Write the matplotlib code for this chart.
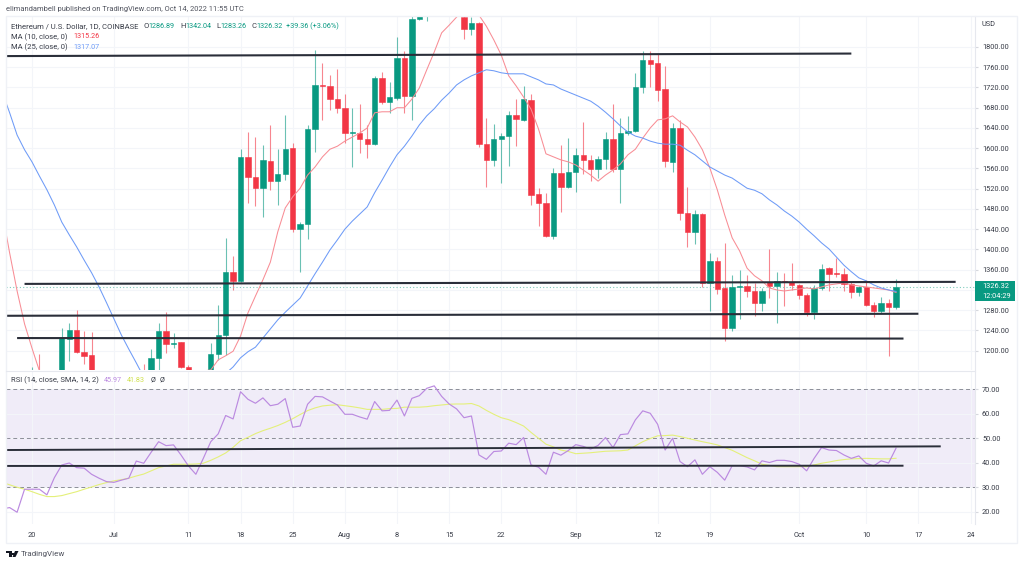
#! /usr/bin/python3
#
#   eth_daily.py
#
# ------------------------------------------------------------------
import numpy as np
import pandas as pd
import matplotlib
matplotlib.use('Agg')
import matplotlib.pyplot as plt
import matplotlib.dates as mdates
from matplotlib.patches import Rectangle, Polygon

plt.rcParams['font.family'] = ['Roboto', 'DejaVu Sans']

# ------------------------------------------------------------------
# daily candles from 2022-06-20
opens = [1125,1128,1050,1100,1130,1224,1241,1197,1192,1130,
    1100,1070,1060,1066,1075,1150,1135,1186,1238,1213,
    1217,1168,1097,1039,1112,1194,1231,1356,1338,1583,
    1543,1522,1575,1536,1549,1600,1440,1450,1638,1725,
    1723,1698,1680,1631,1631,1619,1608,1739,1691,1700,
    1779,1703,1855,1958,1980,1935,1900,1880,1859,1836,
    1847,1608,1576,1619,1625,1666,1656,1695,1509,1491,
    1427,1552,1524,1554,1587,1576,1558,1579,1619,1559,
    1630,1635,1720,1775,1768,1717,1573,1640,1473,1434,
    1470,1334,1377,1323,1245,1326,1328,1318,1294,1335,
    1327,1337,1336,1329,1311,1276,1323,1363,1354,1352,
    1332,1315,1325,1290,1279,1294,1286.89]
highs = [1168,1194,1140,1150,1245,1255,1280,1238,1237,1145,
    1115,1100,1085,1090,1155,1174,1203,1255,1277,1235,
    1218,1172,1110,1115,1215,1290,1423,1387,1598,1632,
    1622,1606,1646,1598,1666,1610,1455,1646,1794,1768,
    1745,1757,1707,1680,1687,1645,1743,1751,1731,1820,
    1792,1880,1965,2020,2010,2030,1940,1960,1885,1859,
    1849,1660,1648,1630,1674,1697,1723,1707,1521,1512,
    1561,1606,1621,1600,1652,1587,1585,1633,1687,1660,
    1664,1749,1792,1792,1786,1762,1650,1656,1523,1477,
    1472,1394,1386,1412,1350,1359,1350,1333,1323,1401,
    1355,1353,1374,1332,1314,1330,1371,1365,1384,1363,
    1336,1327,1340,1297,1307,1302,1342.04]
lows = [1085,1040,1000,1040,1120,1180,1195,1174,1115,1090,
    1020,1040,1035,1050,1065,1090,1125,1160,1195,1205,
    1165,1090,1035,1006,1100,1182,1192,1320,1336,1492,
    1486,1465,1517,1488,1537,1435,1356,1421,1593,1656,
    1676,1670,1610,1562,1591,1581,1607,1687,1670,1695,
    1670,1656,1853,1852,1905,1875,1870,1865,1816,1824,
    1603,1524,1564,1531,1564,1605,1654,1487,1447,1425,
    1421,1475,1521,1514,1549,1535,1541,1559,1554,1492,
    1626,1632,1709,1720,1694,1562,1554,1458,1405,1410,
    1326,1279,1313,1220,1238,1263,1307,1269,1279,1305,
    1254,1289,1320,1303,1269,1263,1320,1318,1346,1318,
    1305,1308,1288,1267,1275,1190,1283.26]
closes = [1128,1050,1100,1130,1225,1241,1197,1190,1130,1100,
    1070,1060,1066,1075,1150,1135,1186,1238,1214,1216,
    1168,1100,1039,1112,1194,1231,1356,1338,1583,1543,
    1521,1577,1536,1549,1598,1440,1450,1638,1725,1722,
    1697,1679,1631,1632,1618,1608,1739,1691,1701,1779,
    1703,1855,1960,1985,1935,1900,1880,1870,1836,1847,
    1608,1576,1619,1625,1666,1657,1697,1508,1491,1427,
    1552,1524,1554,1587,1576,1558,1579,1619,1559,1630,
    1635,1720,1775,1767,1716,1575,1640,1473,1434,1470,
    1333,1377,1322,1245,1326,1328,1317,1294,1318,1327,
    1338,1335,1329,1311,1276,1323,1362,1352,1352,1331,
    1315,1325,1290,1279,1294,1287,1326.32]

# moving averages and rsi start four days earlier, 2022-06-16
ma10 = [1474,1393,1318,1253,1205,1160,1120,1115,1105,1100,1110,1120,1130,1140,
    1130,1110,1100,1090,1095,1100,1100,1110,1120,1140,1150,1155,1158,1160,1162,
    1182,1190,1199,1229,1275,1308,1340,1375,1435,1482,1504,1521,1547,1563,1583,
    1598,1604,1614,1622,1630,1640,1670,1672,1672,1680,1680,1697,1719,1755,1790,
    1828,1843,1859,1873,1873,1863,1841,1814,1784,1743,1723,1701,1677,1638,1589,
    1583,1577,1573,1567,1557,1547,1535,1547,1557,1569,1587,1598,1620,1640,1656,
    1658,1664,1652,1642,1622,1597,1561,1518,1468,1423,1397,1363,1348,1338,1324,
    1320,1318,1320,1322,1324,1322,1326,1330,1332,1334,1330,1328,1326,1324,1322,
    1320,1315.26]
ma25 = [1711,1670,1626,1597,1573,1545,1518,1488,1454,1429,1405,1379,1354,1326,
    1295,1263,1231,1203,1176,1148,1135,1125,1115,1105,1100,1098,1100,1105,1115,
    1135,1155,1168,1186,1198,1207,1225,1243,1261,1276,1290,1304,1328,1352,1375,
    1399,1419,1440,1456,1470,1484,1512,1537,1563,1587,1604,1624,1646,1664,1678,
    1695,1709,1725,1735,1743,1749,1755,1753,1749,1747,1747,1747,1741,1735,1727,
    1725,1717,1711,1705,1699,1693,1683,1671,1658,1644,1632,1624,1620,1614,1610,
    1608,1608,1606,1596,1587,1575,1563,1555,1547,1541,1531,1521,1517,1510,1498,
    1488,1476,1466,1454,1440,1427,1413,1401,1385,1369,1356,1344,1338,1330,1324,
    1320,1317.07]
rsi = [21.2,21.7,19.8,29.2,29.2,29.2,26.9,33.9,39.1,39.9,38.0,37.8,35.3,33.7,
    32.3,32.0,32.9,33.7,40.7,39.8,44.3,48.6,47.0,47.3,43.2,38.7,35.3,41.8,48.6,
    51.8,59.3,57.9,69.0,65.9,64.3,66.5,63.3,63.9,66.2,54.5,55.0,63.9,67.1,66.9,
    65.2,63.6,59.8,59.8,58.7,57.8,65.0,61.2,61.4,65.6,59.1,66.3,67.4,70.4,71.4,
    67.1,64.0,62.0,58.4,59.1,43.2,41.4,44.6,44.8,48.0,47.4,50.3,39.1,38.2,35.3,
    44.3,43.1,45.0,47.4,46.7,45.6,47.1,50.3,46.2,51.5,51.8,57.5,61.2,60.2,55.7,
    45.2,50.0,40.5,38.4,41.2,35.3,38.4,36.1,32.9,38.8,38.8,38.3,37.1,40.8,40.1,
    41.0,41.0,40.5,39.4,36.7,41.8,46.2,45.2,45.0,43.2,41.8,42.8,39.8,38.7,40.8,
    39.9,45.97]
rsi_ma = [32.0,31.0,30.0,29.2,28.2,27.1,26.2,26.2,26.6,27.4,28.2,29.2,30.1,31.1,
    31.9,32.6,33.1,33.7,34.6,35.4,36.7,38.0,38.7,39.4,39.4,39.4,39.5,39.8,41.0,
    42.4,44.0,46.3,49.0,50.4,51.9,53.1,54.1,55.2,56.5,58.0,59.7,61.3,62.4,63.2,
    63.5,63.7,63.3,62.9,62.4,61.8,61.8,61.8,62.1,62.2,62.7,62.7,62.7,62.9,63.3,
    63.6,63.9,64.0,64.0,64.2,63.2,61.4,59.8,58.4,57.6,56.4,55.0,52.4,50.0,47.6,
    46.5,45.2,44.6,43.7,43.9,44.1,44.4,44.7,44.8,44.9,45.2,46.9,48.6,49.9,51.0,
    51.1,51.3,50.7,50.0,49.3,48.6,48.0,47.3,46.2,45.1,43.6,42.1,40.8,39.4,38.9,
    38.4,38.4,38.4,38.4,38.4,39.1,39.8,40.3,40.9,41.3,41.6,41.7,41.8,41.7,41.6,
    41.6,41.83]

# hand drawn lines: start date, end date, start value, end value
price_lines = [('2022-06-16', '2022-10-08', 1782, 1787),
    ('2022-06-19', '2022-10-22', 1332, 1336),
    ('2022-06-16', '2022-10-17', 1269, 1273),
    ('2022-06-18', '2022-10-15', 1225, 1224)]
rsi_lines = [('2022-06-16', '2022-10-20', 45.2, 46.7),
    ('2022-06-16', '2022-10-15', 38.7, 38.8)]

tick_dates = ['2022-06-20','2022-07-01','2022-07-11','2022-07-18','2022-07-25',
    '2022-08-01','2022-08-08','2022-08-15','2022-08-22','2022-09-01','2022-09-12',
    '2022-09-19','2022-10-01','2022-10-10','2022-10-17','2022-10-24']
tick_labels = ['20','Jul','11','18','25','Aug','8','15','22','Sep','12','19','Oct','10','17','24']
price_ticks = list(range(1200, 1801, 40))
rsi_ticks = [20, 30, 40, 50, 60, 70]
last_price = 1326.32

GREEN = '#089981'
RED = '#f23645'
BLUE = '#6e9bf7'
MARED = '#f88d95'
GRID = '#f3f5f9'
DARK = '#2a2e39'
TEXT = '#383c47'
W, H = 1024, 565


# ------------------------------------------------------------------
def pane(y0, y1):
    # axes from pixel rows of the picture
    return fig.add_axes([6 / W, 1 - y1 / H, 969 / W, (y1 - y0) / H])


def put(x, y, txt, color=TEXT, size=5.5, **kw):
    fig.text(x / W, 1 - y / H, txt, color=color, fontsize=size, va='center', **kw)


def px(x, y):
    return (x / W, 1 - y / H)


# ------------------------------------------------------------------
fig = plt.figure(figsize=(W / 100, H / 100), dpi=100, facecolor='white')

ax = pane(16, 370)
ax2 = pane(372, 524)

dates = mdates.date2num(pd.date_range('2022-06-20', periods=len(opens)))
ma_dates = mdates.date2num(pd.date_range('2022-06-16', periods=len(ma10)))
xticks = mdates.date2num(pd.to_datetime(tick_dates))
x_left = mdates.date2num(pd.Timestamp('2022-06-20')) - 3.49
x_right = mdates.date2num(pd.Timestamp('2022-06-20')) + 126.6

for aa in (ax, ax2):
    aa.set_xlim(x_left, x_right)
    aa.set_xticks(xticks)
    aa.grid(True, color=GRID, lw=0.8)
    aa.set_axisbelow(True)
    aa.yaxis.tick_right()
    aa.tick_params(axis='y', length=2, color='#d6d8de', labelcolor=TEXT, labelsize=5.3, pad=3)
    for ss in aa.spines.values():
        ss.set_visible(False)
    aa.spines['right'].set_visible(True)
    aa.spines['right'].set_color('#e6e8ee')
    aa.spines['right'].set_linewidth(0.8)

# price pane
ax.set_ylim(1161.9, 1861.2)
ax.set_yticks(price_ticks)
ax.set_yticklabels(['%.2f' % pp for pp in price_ticks])
ax.tick_params(axis='x', length=0, labelbottom=False)

up = np.array(closes) >= np.array(opens)
colors = [GREEN if uu else RED for uu in up]
ax.vlines(dates, lows, highs, colors=colors, lw=0.8, alpha=0.6, zorder=2)
ax.bar(dates, np.abs(np.array(closes) - np.array(opens)), bottom=np.minimum(opens, closes),
    width=0.72, color=colors, edgecolor=colors, lw=0.4, zorder=3)
ax.plot(ma_dates, ma10, color=MARED, lw=0.75, zorder=4)
ax.plot(ma_dates, ma25, color=BLUE, lw=0.75, zorder=4)
ax.axhline(last_price, color='#7fcbbd', lw=0.8, ls=(0, (1, 2)), zorder=2)
for d0, d1, v0, v1 in price_lines:
    ax.plot(pd.to_datetime([d0, d1]), [v0, v1], color=DARK, lw=1.5, zorder=5, solid_capstyle='butt')

# rsi pane
ax2.set_ylim(15.0, 77.06)
ax2.set_yticks(rsi_ticks)
ax2.set_yticklabels(['%.2f' % rr for rr in rsi_ticks])
ax2.set_xticklabels(tick_labels)
ax2.tick_params(axis='x', length=0, labelcolor=TEXT, labelsize=5.3, pad=6)
ax2.axhspan(30, 70, color='#7e57c2', alpha=0.11, lw=0, zorder=0)
for lev in (30, 50, 70):
    ax2.axhline(lev, color='#8c8e98', lw=0.7, ls=(0, (4, 3)), zorder=1)
ax2.plot(ma_dates, rsi_ma, color='#e4f07a', lw=0.8, zorder=3)
ax2.plot(ma_dates, rsi, color='#bb8ae0', lw=0.85, zorder=4)
for d0, d1, v0, v1 in rsi_lines:
    ax2.plot(pd.to_datetime([d0, d1]), [v0, v1], color=DARK, lw=1.4, zorder=5, solid_capstyle='butt')

# frame around panes, pixel coordinates
fig.add_artist(Rectangle((6 / W, 1 - 543 / H), 1011 / W, 527 / H, transform=fig.transFigure,
    fill=False, edgecolor='#eff1f6', lw=1.0))
fig.add_artist(plt.Line2D([6 / W, 975 / W], [1 - 371 / H, 1 - 371 / H], color='#e6e8ee', lw=0.8))

# price label
fig.add_artist(Rectangle((975 / W, 1 - 301 / H), 40 / W, 20.5 / H, transform=fig.transFigure,
    color=GREEN, lw=0, zorder=6))
put(982, 286, '1326.32', color='white', size=5.3, zorder=7)
put(982, 296, '12:04:29', color='white', size=5.3, zorder=7)
put(982, 25, 'USD', size=5.3)

# header and legends
put(6, 9, 'elimandambell published on TradingView.com, Oct 14, 2022 11:55 UTC', size=5.45, color='#50535e')
put(11, 26, 'Ethereum / U.S. Dollar, 1D, COINBASE')
for xx, lab in ((144, 'O'), (180, 'H'), (216, 'L'), (251, 'C')):
    put(xx, 26, lab)
for xx, val in ((148.5, '1286.89'), (185, '1342.04'), (220, '1283.26'), (256, '1326.32'), (286, '+39.36 (+3.06%)')):
    put(xx, 26, val, color=GREEN, size=5.2)
put(11, 37, 'MA (10, close, 0)')
put(73, 37, '1315.26', color=RED, size=5.2)
put(11, 47.5, 'MA (25, close, 0)')
put(73, 47.5, '1317.07', color=BLUE, size=5.2)
put(11, 380, 'RSI (14, close, SMA, 14, 2)')
put(104, 380, '45.97', color='#bb8ae0', size=5.2)
put(127, 380, '41.83', color='#cfe04c', size=5.2)
put(151, 380, '\u00d8', size=5.2)
put(160, 380, '\u00d8', size=5.2)

# logo
put(21, 554, 'TradingView', size=5.8, color='#50535e')
fig.add_artist(Polygon([px(6, 551), px(11.5, 551), px(11.5, 557), px(9, 557), px(9, 553.2), px(6, 553.2)],
    transform=fig.transFigure, color='#131722', lw=0))
fig.add_artist(Polygon([px(15, 551), px(18.5, 551), px(15.5, 557), px(12.5, 557)],
    transform=fig.transFigure, color='#131722', lw=0))
fig.add_artist(Rectangle(px(12.2, 555.4), 1.8 / W, 2.2 / H, transform=fig.transFigure, color='#131722', lw=0))

plt.savefig('out.png', dpi=100)
# ------------------------------------------------------------------
